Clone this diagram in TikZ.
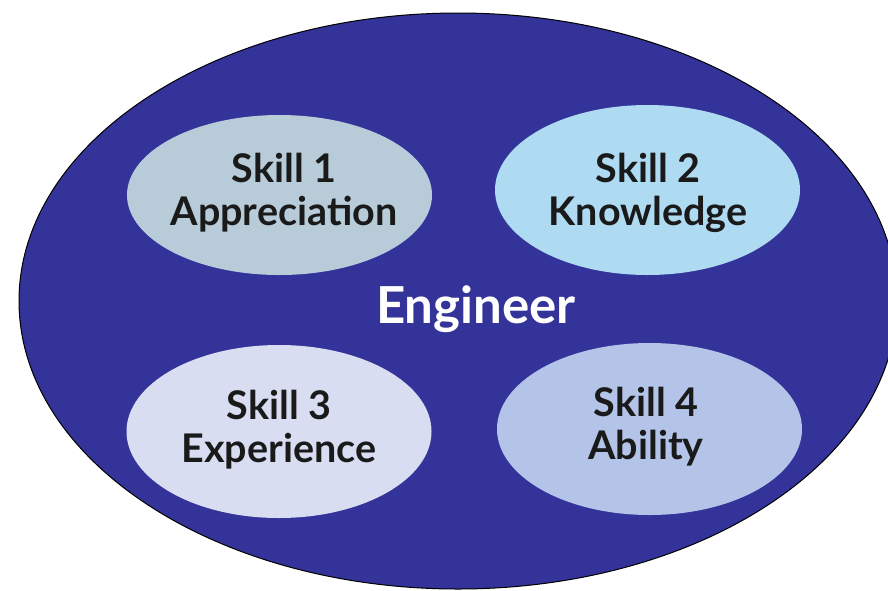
\documentclass[tikz,border=0pt]{standalone}
\usepackage{fontspec}
\setmainfont{Lato}
\usetikzlibrary{shapes.geometric}
\definecolor{navy}{RGB}{51,51,153}
\definecolor{skA}{RGB}{184,203,216}
\definecolor{skB}{RGB}{174,218,242}
\definecolor{skC}{RGB}{216,221,242}
\definecolor{skD}{RGB}{180,196,232}
\definecolor{txtdark}{RGB}{26,26,26}
\begin{document}
\begin{tikzpicture}[x=1pt,y=-1pt,
  skill/.style={ellipse, draw=none, inner sep=0pt, minimum width=305pt},
  skilltext/.style={font=\bfseries\fontsize{39.5}{43}\selectfont, text=txtdark, align=center, inner sep=0pt},
  engtext/.style={font=\bfseries\fontsize{51}{56}\selectfont, text=white, inner sep=0pt}]
\useasboundingbox (0,0) rectangle (888,590);
\clip (0,0) rectangle (888,590);
\node[ellipse, draw=black, line width=1pt, fill=navy, minimum width=878pt, minimum height=576pt, inner sep=0pt] (eng) at (458,301) {};
\node[skill, fill=skA, minimum height=160pt] (s1) at (279.5,195) {};
\node[skill, fill=skB, minimum height=170pt] (s2) at (647.5,190) {};
\node[skill, fill=skC, minimum height=173pt] (s3) at (279,431.5) {};
\node[skill, fill=skD, minimum height=172pt] (s4) at (649.5,429) {};
\node[skilltext] (t1) at (284,193) {Skill 1\\Appreciation};
\node[skilltext] (t2) at (648,193) {Skill 2\\Knowledge};
\node[skilltext] (t3) at (279,430) {Skill 3\\Experience};
\node[skilltext] (t4) at (646,427) {Skill 4\\Ability};
\node[engtext] (et) at (476,309) {Engineer};
\end{tikzpicture}
\end{document}
